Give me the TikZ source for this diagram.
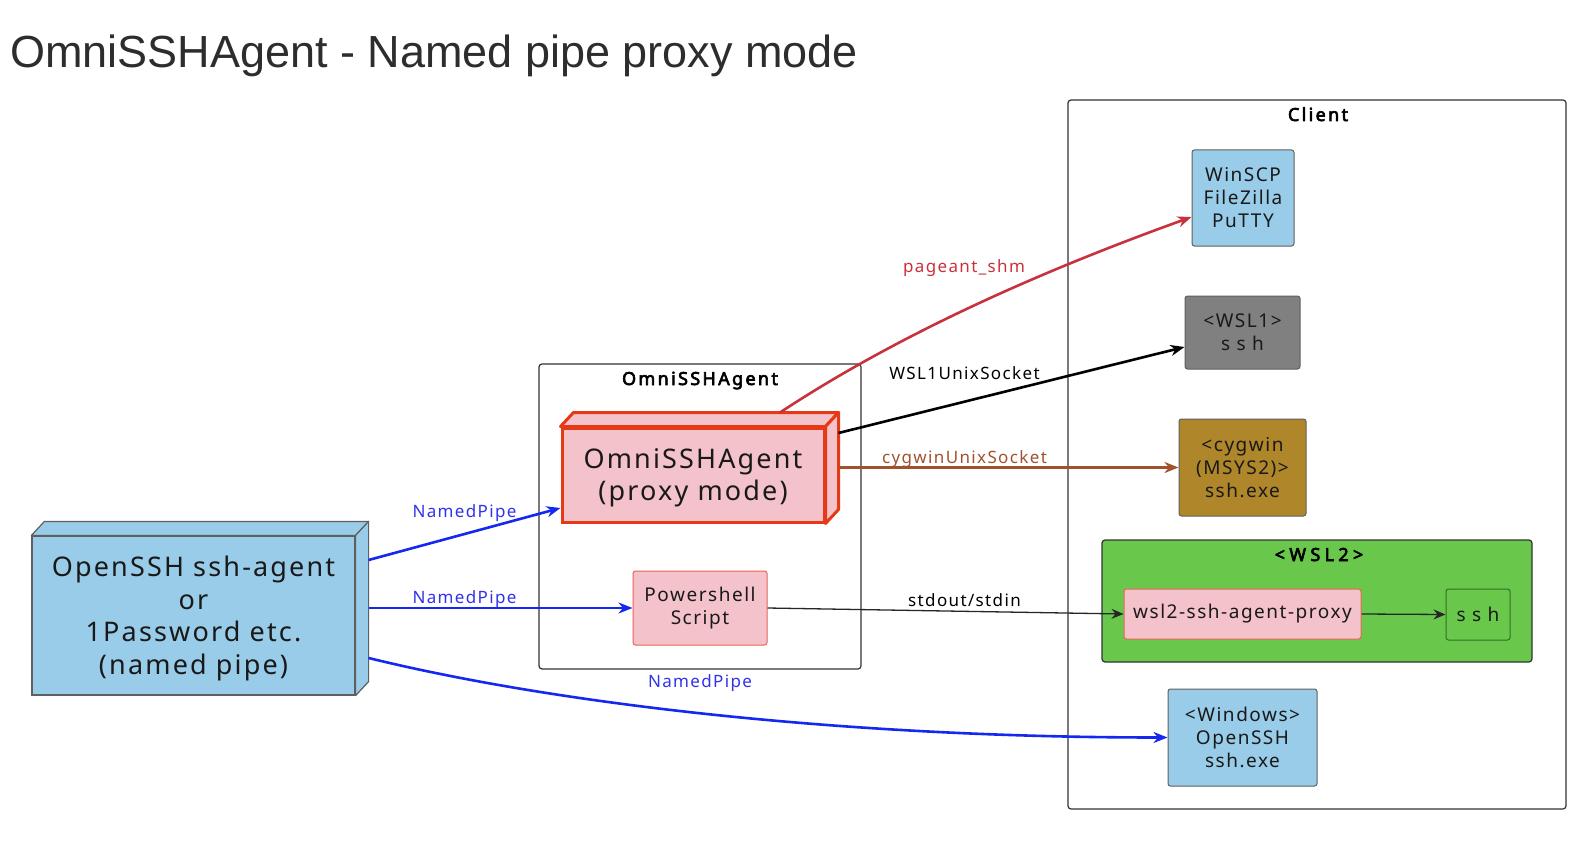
\documentclass[tikz,border=0pt]{standalone}
\usepackage{fontspec}
\setmainfont{Noto Sans}[LetterSpace=8]
\newfontfamily\titlefont{Liberation Sans}
\newfontfamily\pkgfont{Noto Sans}[LetterSpace=13, FakeBold=3.5]
\newfontfamily\wslfont{Noto Sans}[LetterSpace=24, FakeBold=3.5]
\usetikzlibrary{arrows.meta,calc}
\definecolor{skyb}{RGB}{152,204,232}
\definecolor{pinkf}{RGB}{244,194,202}
\definecolor{omnib}{RGB}{230,58,22}
\definecolor{psb}{RGB}{232,100,85}
\definecolor{grayf}{RGB}{128,128,128}
\definecolor{cygf}{RGB}{175,134,42}
\definecolor{wslg}{RGB}{105,200,75}
\definecolor{wsshb}{RGB}{50,110,40}
\definecolor{bluel}{RGB}{20,40,240}
\definecolor{bluet}{RGB}{50,50,235}
\definecolor{redl}{RGB}{200,50,60}
\definecolor{brownl}{RGB}{160,82,45}
\definecolor{titlec}{RGB}{45,45,45}
\definecolor{bord}{RGB}{95,95,95}
\tikzset{
 pkg/.style={draw=black!80, line width=1.2pt, rounded corners=3pt, fill=white, inner sep=0},
 pkglbl/.style={font=\pkgfont\fontsize{18}{22}\selectfont, anchor=base, inner sep=0},
 box/.style={draw=bord, line width=1pt, rounded corners=2.5pt, align=center, inner sep=0,
   font=\fontsize{19}{23}\selectfont, text=black!90},
 big/.style={align=center, inner sep=0, font=\fontsize{27}{32.5}\selectfont, text=black!90},
 elbl/.style={font=\fontsize{17}{20}\selectfont, anchor=base, inner sep=0},
 conn/.style={line width=2.6pt, -{Stealth[length=14pt,width=11pt,inset=4.5pt]}},
 thinconn/.style={line width=1.3pt, draw=black!85, -{Stealth[length=12pt,width=10pt,inset=4pt]}},
}
\begin{document}
\begin{tikzpicture}[x=1pt,y=-1pt]
\path[use as bounding box] (0,0) rectangle (1583,848);

% title
\node[anchor=base west, font=\titlefont\fontsize{45}{50}\selectfont, text=titlec, inner sep=0] (title) at (10,68) {OmniSSHAgent - Named pipe proxy mode};

% packages
\node[pkg, minimum width=498, minimum height=709] (client) at (1317,454.5) {};
\node[pkglbl] (clientlbl) at (1318,121) {Client};
\node[pkg, minimum width=322, minimum height=305] (omnipkg) at (700,516.5) {};
\node[pkglbl] (omnipkglbl) at (700,385) {OmniSSHAgent};
\node[pkg, fill=wslg, draw=black!80, minimum width=430, minimum height=122] (wsl2) at (1317,601) {};
\node[anchor=base, inner sep=0, font=\wslfont\fontsize{18}{22}\selectfont] (wsl2lbl) at (1319,561) {<WSL2>};

% client nodes
\node[box, fill=skyb, minimum width=102, minimum height=96] (winscp) at (1243,198) {WinSCP\\FileZilla\\PuTTY};
\node[box, fill=grayf, minimum width=115, minimum height=73] (wsl1) at (1242.5,332.5) {<WSL1>\\s s h};
\node[box, fill=cygf, minimum width=127, minimum height=97] (cyg) at (1242.5,467.5) {<cygwin\\(MSYS2)>\\ssh.exe};
\node[box, fill=pinkf, draw=psb, minimum width=237, minimum height=50] (wproxy) at (1242.5,614) {wsl2-ssh-agent-proxy};
\node[box, fill=wslg, draw=wsshb, minimum width=64, minimum height=51] (wssh) at (1478,614.5) {s s h};
\node[box, fill=skyb, minimum width=149, minimum height=97] (win) at (1242.5,737.5) {<Windows>\\OpenSSH\\ssh.exe};

% OmniSSHAgent nodes
\node[box, fill=pinkf, draw=psb, minimum width=134, minimum height=74] (ps) at (700,608) {Powershell\\Script};
\node[fill=pinkf, draw=omnib, line width=3pt, minimum width=262, minimum height=94, inner sep=0] (omni) at (693,475) {};
\draw[fill=pinkf, draw=omnib, line width=3pt, line join=round]
  (omni.north west) -- ++(13,-14) -- ($(omni.north east)+(13,-14)$) -- (omni.north east) -- cycle;
\draw[fill=pinkf, draw=omnib, line width=3pt, line join=round]
  (omni.north east) -- ++(13,-14) -- ($(omni.south east)+(13,-14)$) -- (omni.south east) -- cycle;
\node[big, yshift=-3pt] (omnitxt) at (omni.center) {OmniSSHAgent\\(proxy mode)};

% OpenSSH agent node
\node[fill=skyb, draw=bord, line width=1.2pt, minimum width=323, minimum height=159, inner sep=0] (ossh) at (193.5,615.5) {};
\draw[fill=skyb, draw=bord, line width=1.2pt, line join=round]
  (ossh.north west) -- ++(13,-14) -- ($(ossh.north east)+(13,-14)$) -- (ossh.north east) -- cycle;
\draw[fill=skyb, draw=bord, line width=1.2pt, line join=round]
  (ossh.north east) -- ++(13,-14) -- ($(ossh.south east)+(13,-14)$) -- (ossh.south east) -- cycle;
\node[big, yshift=-3pt] (ossh txt) at (ossh.center) {OpenSSH ssh-agent\\or\\1Password etc.\\(named pipe)};

\coordinate (osshR) at ($(ossh.east)+(13,0)$);
\coordinate (omniR) at ($(omni.east)+(13,0)$);

% connectors
\draw[conn, bluel] ($(osshR)+(0,-55.5)$) -- ($(omni.west)+(0,33)$);
\draw[conn, bluel] (ps.west -| osshR) -- (ps.west);
\draw[conn, bluel] ($(osshR)+(0,42.5)$) .. controls +(192,47) and +(-318,0) .. (win.west);
\draw[conn, redl] ($(omni.north)+(87,-14)$) .. controls +(120,-79) and +(-150,54) .. ($(winscp.west)+(0,19)$);
\draw[conn, black] ($(omniR)+(0,-42)$) -- ($(wsl1.west)+(0,14.5)$);
\draw[conn, brownl] (omniR |- cyg.west) -- (cyg.west);
\draw[thinconn] (ps.east) -- (wproxy.west);
\draw[thinconn] (wproxy.east) -- (wssh.west);

% connector labels
\node[elbl, text=bluet] (np1) at (464.5,517) {NamedPipe};
\node[elbl, text=bluet] (np2) at (464.5,603) {NamedPipe};
\node[elbl, text=bluet] (np3) at (700,687) {NamedPipe};
\node[elbl, text=redl] (pshm) at (964,272) {pageant\_shm};
\node[elbl, text=black] (wsl1lbl) at (964.5,379) {WSL1UnixSocket};
\node[elbl, text=brownl] (cyglbl) at (964.5,463) {cygwinUnixSocket};
\node[elbl, text=black] (stdlbl) at (964.5,606) {stdout/stdin};
\end{tikzpicture}
\end{document}
